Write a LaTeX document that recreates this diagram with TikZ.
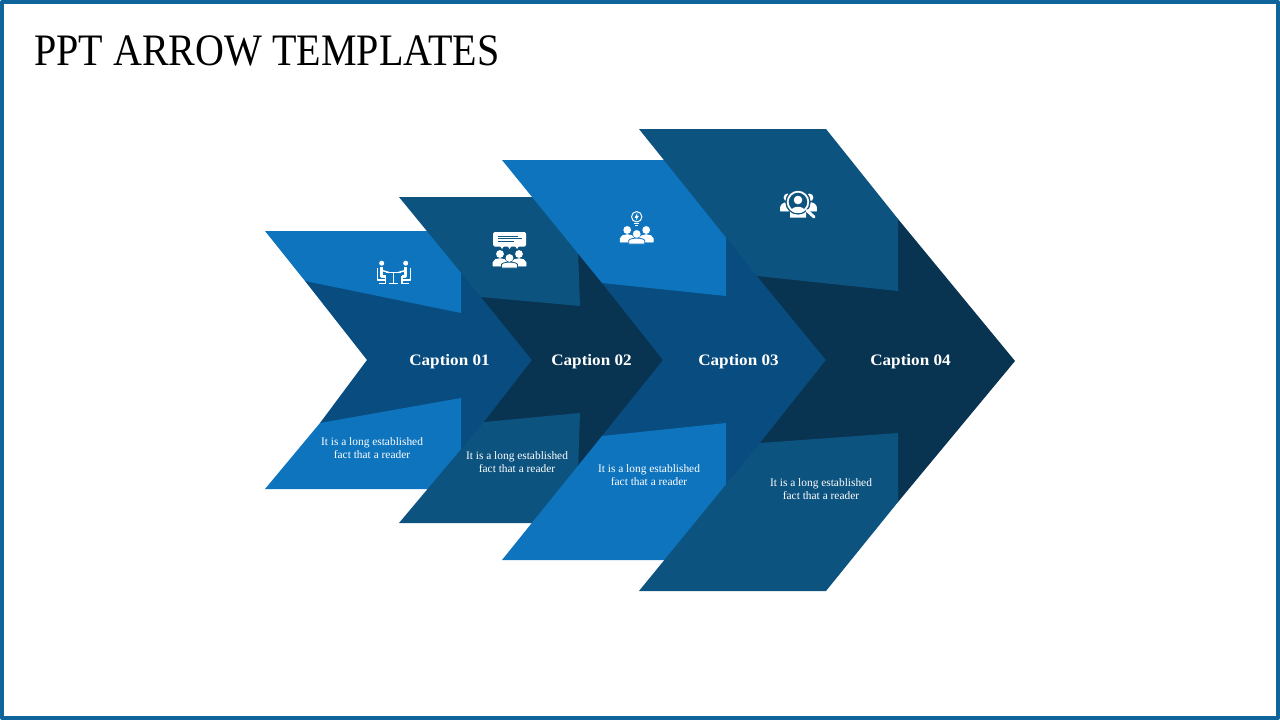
\documentclass[tikz,border=0pt]{standalone}
\usepackage{fontspec}
\setmainfont{Liberation Serif}
\newfontfamily\titlefont[FakeStretch=0.89]{Liberation Serif}
\newfontfamily\capfont[FakeStretch=1.07]{Liberation Serif}
\definecolor{framecol}{HTML}{10649C}
\definecolor{lightcol}{HTML}{0E74BE}
\definecolor{midcol}{HTML}{084C80}
\definecolor{darkcol}{HTML}{083452}
\definecolor{panelcol}{HTML}{0D537F}
\begin{document}
\begin{tikzpicture}[x=1pt,y=-1pt,line join=round,
	captiontext/.style={text=white,inner sep=0pt,anchor=base,font=\capfont\fontsize{16}{16}\selectfont\bfseries},
	bodytext/.style={text=white,inner sep=0pt,align=center,font=\fontsize{11.4}{13.4}\selectfont},
	iconline/.style={draw=white,line width=1.4pt}]
	% bust, #1 x, #2 head y, #3 bottom y, #4 half width, #5 outline colour
	\def\bust#1#2#3#4#5{
		\fill[white] (#1,#2) circle (3.9);
		\filldraw[fill=white,draw=#5,line width=0.8pt] (#1-#4,#3)--(#1-#4,#3-3.5) .. controls (#1-#4+1,#2+3.4) and (#1+#4-1,#2+3.4) .. (#1+#4,#3-3.5)--(#1+#4,#3)--cycle;
	}
	% three busts, #1 x, #2 bottom y, #3 outline colour
	\def\crowd#1#2#3{
		\bust{#1-9.5}{#2-14}{#2-2}{7}{white}
		\bust{#1+9.5}{#2-14}{#2-2}{7}{white}
		\bust{#1}{#2-10}{#2}{8}{#3}
	}
	\useasboundingbox (0,0) rectangle (1280,720);
	\draw[framecol,line width=4pt] (2,2) rectangle (1278,718);
	\node[anchor=base west,inner sep=0pt,font=\titlefont\fontsize{45}{45}\selectfont] (title) at (34,65) {PPT ARROW TEMPLATES};
	% arrow 1
	\fill[midcol] (305,281)--(320,245)--(434,231)--(536,360)--(434,489)--(320,475)--(320,423)--(367,360)--cycle;
	\fill[lightcol] (265,231)--(431,231)--(461,268)--(461,313)--(305,281)--cycle;
	\fill[lightcol] (265,489)--(431,489)--(461,451)--(461,398)--(320,423)--cycle;
	% arrow 2
	\fill[darkcol] (481,297)--(480,220)--(533,197)--(666,360)--(533,523)--(480,500)--(484,422)--(532,360)--cycle;
	\fill[panelcol] (399,197)--(534,197)--(578,250)--(580,306)--(481,297)--cycle;
	\fill[panelcol] (399,523)--(534,523)--(578,471)--(580,413)--(484,422)--cycle;
	% arrow 3
	\fill[midcol] (602,283)--(600,190)--(666,160)--(829,360)--(666,560)--(600,530)--(602,436)--(663,360)--cycle;
	\fill[lightcol] (502,160)--(667,160)--(726,231)--(726,296)--(602,283)--cycle;
	\fill[lightcol] (502,560)--(667,560)--(726,489)--(726,423)--(602,436)--cycle;
	% arrow 4
	\fill[darkcol] (757,276)--(780,180)--(870,200)--(898,219)--(1015,361)--(898,502)--(870,520)--(780,540)--(760,443)--(826,360)--cycle;
	\fill[panelcol] (639,129)--(826,129)--(898,219)--(898,291)--(757,276)--cycle;
	\fill[panelcol] (639,591)--(826,591)--(898,502)--(898,433)--(760,443)--cycle;
	% captions
	\node[captiontext] (cap1) at (449.5,365) {Caption 01};
	\node[captiontext] (cap2) at (591.5,365) {Caption 02};
	\node[captiontext] (cap3) at (738.5,365) {Caption 03};
	\node[captiontext] (cap4) at (910.5,365) {Caption 04};
	\node[bodytext] (txt1) at (372,448) {It is a long established\\fact that a reader};
	\node[bodytext] (txt2) at (517,462) {It is a long established\\fact that a reader};
	\node[bodytext] (txt3) at (649,475) {It is a long established\\fact that a reader};
	\node[bodytext] (txt4) at (821,489) {It is a long established\\fact that a reader};
	% icon 1, table
	\fill[white] (381.7,263.2) circle (2.5) (405.7,263.2) circle (2.5);
	\draw[iconline] (377.3,268)--(377.3,279.8)--(386,279.8) (410.7,268)--(410.7,279.8)--(402,279.8);
	\draw[iconline,line width=3.2pt] (381.7,267)--(381.7,276.5)--(385.5,276.5) (405.7,267)--(405.7,276.5)--(401.9,276.5);
	\draw[iconline] (385.5,276)--(385.5,283) (401.9,276)--(401.9,283);
	\draw[iconline] (382,270.5)--(389,272.5) (405.4,270.5)--(398.4,272.5);
	\draw[iconline] (386,272.6)--(401.4,272.6) (393.7,272.6)--(393.7,283) (389,283.4)--(398.4,283.4) (378.5,283.4)--(386,283.4) (401.4,283.4)--(409,283.4);
	% icon 2, speech bubble
	\fill[white,rounded corners=1.5pt] (493,232) rectangle (526,246.5);
	\foreach \px in {502,509.5,517}
		\fill[white] (\px-2,246)--(\px+2,246)--(\px,249)--cycle;
	\draw[panelcol,line width=0.8pt] (498,236.5)--(518,236.5) (498,238.6)--(522,238.6) (498,241)--(514,241);
	\crowd{509.5}{268}{panelcol}
	% icon 3, bulb
	\crowd{636.7}{244}{lightcol}
	\draw[white,line width=1pt] (636.7,216.8) circle (5.2);
	\fill[white] (637.5,212.8)--(634.5,217.8)--(636.5,217.8)--(635.8,220.8)--(638.9,215.8)--(637,215.8)--cycle;
	\draw[white,line width=1pt] (634,223.5)--(639.4,223.5) (635,225.5)--(638.4,225.5);
	% icon 4, magnifier
	\bust{787.5}{197.5}{211}{7}{white}
	\bust{809.5}{197.5}{211}{7}{white}
	\fill[panelcol] (798,202) circle (12.5);
	\fill[white] (798,200) circle (4.3);
	\fill[white] (790,217.5)--(790,212) .. controls (792,205) and (804,205) .. (806,212)--(806,217.5)--cycle;
	\draw[panelcol,line width=1.4pt] (798,202) circle (11.9);
	\draw[white,line width=1.8pt] (798,202) circle (10.3);
	\draw[white,line width=3pt,line cap=round] (807,210.5)--(814,217);
\end{tikzpicture}
\end{document}
